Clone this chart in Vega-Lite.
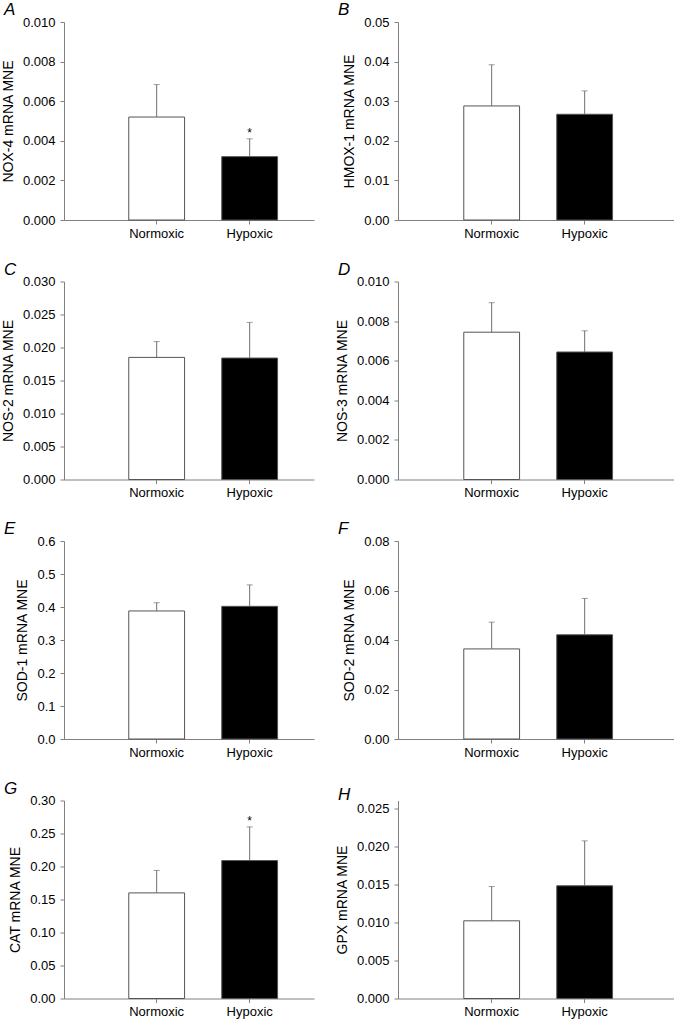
{
  "$schema": "https://vega.github.io/schema/vega-lite/v6.json",
  "background": "white",
  "padding": {"left": 1, "top": 1, "right": 0, "bottom": 0},
  "datasets": {
    "d": [
      {"panel": "A", "group": "Normoxic", "mean": 0.0052, "err": 0.00684, "sig": ""},
      {"panel": "A", "group": "Hypoxic", "mean": 0.0032, "err": 0.0041, "sig": "*"},
      {"panel": "B", "group": "Normoxic", "mean": 0.0288, "err": 0.0392, "sig": ""},
      {"panel": "B", "group": "Hypoxic", "mean": 0.0267, "err": 0.0326, "sig": ""},
      {"panel": "C", "group": "Normoxic", "mean": 0.0185, "err": 0.0209, "sig": ""},
      {"panel": "C", "group": "Hypoxic", "mean": 0.0184, "err": 0.0238, "sig": ""},
      {"panel": "D", "group": "Normoxic", "mean": 0.00744, "err": 0.00893, "sig": ""},
      {"panel": "D", "group": "Hypoxic", "mean": 0.00644, "err": 0.00751, "sig": ""},
      {"panel": "E", "group": "Normoxic", "mean": 0.388, "err": 0.413, "sig": ""},
      {"panel": "E", "group": "Hypoxic", "mean": 0.402, "err": 0.467, "sig": ""},
      {"panel": "F", "group": "Normoxic", "mean": 0.0364, "err": 0.0472, "sig": ""},
      {"panel": "F", "group": "Hypoxic", "mean": 0.0421, "err": 0.0568, "sig": ""},
      {"panel": "G", "group": "Normoxic", "mean": 0.160, "err": 0.194, "sig": ""},
      {"panel": "G", "group": "Hypoxic", "mean": 0.209, "err": 0.260, "sig": "*"},
      {"panel": "H", "group": "Normoxic", "mean": 0.0102, "err": 0.0147, "sig": ""},
      {"panel": "H", "group": "Hypoxic", "mean": 0.0148, "err": 0.0207, "sig": ""}
    ]
  },
  "columns": 2,
  "spacing": {"column": 21, "row": 20.5},
  "concat": [
    {
      "width": 250, "height": 198, "title": "A",
      "data": {"name": "d"},
      "transform": [{"filter": "datum.panel === 'A'"}],
      "encoding": {"x": {"field": "group", "type": "nominal", "sort": ["Normoxic", "Hypoxic"], "title": null,
        "scale": {"paddingInner": 0.4, "paddingOuter": 0.544, "align": 0.64}}},
      "layer": [
        {"mark": {"type": "bar", "stroke": "#555555", "strokeWidth": 1},
         "encoding": {"y": {"field": "mean", "type": "quantitative", "title": "NOX-4 mRNA MNE", "scale": {"domain": [0, 0.01]}, "axis": {"values": [0, 0.002, 0.004, 0.006, 0.008, 0.01], "tickCount": 20, "format": ".3f"}},
           "fill": {"field": "group", "type": "nominal", "scale": {"domain": ["Normoxic", "Hypoxic"], "range": ["#ffffff", "#000000"]}, "legend": null}}},
        {"mark": {"type": "rule", "color": "#707070"}, "encoding": {"y": {"field": "mean", "type": "quantitative", "title": "NOX-4 mRNA MNE"}, "y2": {"field": "err"}}},
        {"mark": {"type": "tick", "orient": "horizontal", "color": "#707070", "size": 6, "thickness": 1}, "encoding": {"y": {"field": "err", "type": "quantitative", "title": "NOX-4 mRNA MNE"}}},
        {"mark": {"type": "text", "baseline": "alphabetic", "dy": -2, "fontSize": 12}, "encoding": {"y": {"field": "err", "type": "quantitative", "title": "NOX-4 mRNA MNE"}, "text": {"field": "sig"}}}
      ]
    },
    {
      "width": 276, "height": 198, "title": "B",
      "data": {"name": "d"},
      "transform": [{"filter": "datum.panel === 'B'"}],
      "encoding": {"x": {"field": "group", "type": "nominal", "sort": ["Normoxic", "Hypoxic"], "title": null,
        "scale": {"paddingInner": 0.4, "paddingOuter": 0.684, "align": 0.517}}},
      "layer": [
        {"mark": {"type": "bar", "stroke": "#555555", "strokeWidth": 1},
         "encoding": {"y": {"field": "mean", "type": "quantitative", "title": "HMOX-1 mRNA MNE", "scale": {"domain": [0, 0.05]}, "axis": {"values": [0, 0.01, 0.02, 0.03, 0.04, 0.05], "tickCount": 20, "format": ".2f"}},
           "fill": {"field": "group", "type": "nominal", "scale": {"domain": ["Normoxic", "Hypoxic"], "range": ["#ffffff", "#000000"]}, "legend": null}}},
        {"mark": {"type": "rule", "color": "#707070"}, "encoding": {"y": {"field": "mean", "type": "quantitative", "title": "HMOX-1 mRNA MNE"}, "y2": {"field": "err"}}},
        {"mark": {"type": "tick", "orient": "horizontal", "color": "#707070", "size": 6, "thickness": 1}, "encoding": {"y": {"field": "err", "type": "quantitative", "title": "HMOX-1 mRNA MNE"}}}
      ]
    },
    {
      "width": 250, "height": 198, "title": "C",
      "data": {"name": "d"},
      "transform": [{"filter": "datum.panel === 'C'"}],
      "encoding": {"x": {"field": "group", "type": "nominal", "sort": ["Normoxic", "Hypoxic"], "title": null,
        "scale": {"paddingInner": 0.4, "paddingOuter": 0.544, "align": 0.64}}},
      "layer": [
        {"mark": {"type": "bar", "stroke": "#555555", "strokeWidth": 1},
         "encoding": {"y": {"field": "mean", "type": "quantitative", "title": "NOS-2 mRNA MNE", "scale": {"domain": [0, 0.03]}, "axis": {"values": [0, 0.005, 0.01, 0.015, 0.02, 0.025, 0.03], "tickCount": 20, "format": ".3f"}},
           "fill": {"field": "group", "type": "nominal", "scale": {"domain": ["Normoxic", "Hypoxic"], "range": ["#ffffff", "#000000"]}, "legend": null}}},
        {"mark": {"type": "rule", "color": "#707070"}, "encoding": {"y": {"field": "mean", "type": "quantitative", "title": "NOS-2 mRNA MNE"}, "y2": {"field": "err"}}},
        {"mark": {"type": "tick", "orient": "horizontal", "color": "#707070", "size": 6, "thickness": 1}, "encoding": {"y": {"field": "err", "type": "quantitative", "title": "NOS-2 mRNA MNE"}}}
      ]
    },
    {
      "width": 276, "height": 198, "title": "D",
      "data": {"name": "d"},
      "transform": [{"filter": "datum.panel === 'D'"}],
      "encoding": {"x": {"field": "group", "type": "nominal", "sort": ["Normoxic", "Hypoxic"], "title": null,
        "scale": {"paddingInner": 0.4, "paddingOuter": 0.684, "align": 0.517}}},
      "layer": [
        {"mark": {"type": "bar", "stroke": "#555555", "strokeWidth": 1},
         "encoding": {"y": {"field": "mean", "type": "quantitative", "title": "NOS-3 mRNA MNE", "scale": {"domain": [0, 0.01]}, "axis": {"values": [0, 0.002, 0.004, 0.006, 0.008, 0.01], "tickCount": 20, "format": ".3f"}},
           "fill": {"field": "group", "type": "nominal", "scale": {"domain": ["Normoxic", "Hypoxic"], "range": ["#ffffff", "#000000"]}, "legend": null}}},
        {"mark": {"type": "rule", "color": "#707070"}, "encoding": {"y": {"field": "mean", "type": "quantitative", "title": "NOS-3 mRNA MNE"}, "y2": {"field": "err"}}},
        {"mark": {"type": "tick", "orient": "horizontal", "color": "#707070", "size": 6, "thickness": 1}, "encoding": {"y": {"field": "err", "type": "quantitative", "title": "NOS-3 mRNA MNE"}}}
      ]
    },
    {
      "width": 250, "height": 198, "title": "E",
      "data": {"name": "d"},
      "transform": [{"filter": "datum.panel === 'E'"}],
      "encoding": {"x": {"field": "group", "type": "nominal", "sort": ["Normoxic", "Hypoxic"], "title": null,
        "scale": {"paddingInner": 0.4, "paddingOuter": 0.544, "align": 0.64}}},
      "layer": [
        {"mark": {"type": "bar", "stroke": "#555555", "strokeWidth": 1},
         "encoding": {"y": {"field": "mean", "type": "quantitative", "title": "SOD-1 mRNA MNE", "scale": {"domain": [0, 0.6]}, "axis": {"values": [0, 0.1, 0.2, 0.3, 0.4, 0.5, 0.6], "tickCount": 20, "format": ".1f"}},
           "fill": {"field": "group", "type": "nominal", "scale": {"domain": ["Normoxic", "Hypoxic"], "range": ["#ffffff", "#000000"]}, "legend": null}}},
        {"mark": {"type": "rule", "color": "#707070"}, "encoding": {"y": {"field": "mean", "type": "quantitative", "title": "SOD-1 mRNA MNE"}, "y2": {"field": "err"}}},
        {"mark": {"type": "tick", "orient": "horizontal", "color": "#707070", "size": 6, "thickness": 1}, "encoding": {"y": {"field": "err", "type": "quantitative", "title": "SOD-1 mRNA MNE"}}}
      ]
    },
    {
      "width": 276, "height": 198, "title": "F",
      "data": {"name": "d"},
      "transform": [{"filter": "datum.panel === 'F'"}],
      "encoding": {"x": {"field": "group", "type": "nominal", "sort": ["Normoxic", "Hypoxic"], "title": null,
        "scale": {"paddingInner": 0.4, "paddingOuter": 0.684, "align": 0.517}}},
      "layer": [
        {"mark": {"type": "bar", "stroke": "#555555", "strokeWidth": 1},
         "encoding": {"y": {"field": "mean", "type": "quantitative", "title": "SOD-2 mRNA MNE", "scale": {"domain": [0, 0.08]}, "axis": {"values": [0, 0.02, 0.04, 0.06, 0.08], "tickCount": 20, "format": ".2f"}},
           "fill": {"field": "group", "type": "nominal", "scale": {"domain": ["Normoxic", "Hypoxic"], "range": ["#ffffff", "#000000"]}, "legend": null}}},
        {"mark": {"type": "rule", "color": "#707070"}, "encoding": {"y": {"field": "mean", "type": "quantitative", "title": "SOD-2 mRNA MNE"}, "y2": {"field": "err"}}},
        {"mark": {"type": "tick", "orient": "horizontal", "color": "#707070", "size": 6, "thickness": 1}, "encoding": {"y": {"field": "err", "type": "quantitative", "title": "SOD-2 mRNA MNE"}}}
      ]
    },
    {
      "width": 250, "height": 198, "title": "G",
      "data": {"name": "d"},
      "transform": [{"filter": "datum.panel === 'G'"}],
      "encoding": {"x": {"field": "group", "type": "nominal", "sort": ["Normoxic", "Hypoxic"], "title": null,
        "scale": {"paddingInner": 0.4, "paddingOuter": 0.544, "align": 0.64}}},
      "layer": [
        {"mark": {"type": "bar", "stroke": "#555555", "strokeWidth": 1},
         "encoding": {"y": {"field": "mean", "type": "quantitative", "title": "CAT mRNA MNE", "scale": {"domain": [0, 0.3]}, "axis": {"values": [0, 0.05, 0.1, 0.15, 0.2, 0.25, 0.3], "tickCount": 20, "format": ".2f"}},
           "fill": {"field": "group", "type": "nominal", "scale": {"domain": ["Normoxic", "Hypoxic"], "range": ["#ffffff", "#000000"]}, "legend": null}}},
        {"mark": {"type": "rule", "color": "#707070"}, "encoding": {"y": {"field": "mean", "type": "quantitative", "title": "CAT mRNA MNE"}, "y2": {"field": "err"}}},
        {"mark": {"type": "tick", "orient": "horizontal", "color": "#707070", "size": 6, "thickness": 1}, "encoding": {"y": {"field": "err", "type": "quantitative", "title": "CAT mRNA MNE"}}},
        {"mark": {"type": "text", "baseline": "alphabetic", "dy": -2, "fontSize": 12}, "encoding": {"y": {"field": "err", "type": "quantitative", "title": "CAT mRNA MNE"}, "text": {"field": "sig"}}}
      ]
    },
    {
      "width": 276, "height": 198, "title": "H",
      "data": {"name": "d"},
      "transform": [{"filter": "datum.panel === 'H'"}],
      "encoding": {"x": {"field": "group", "type": "nominal", "sort": ["Normoxic", "Hypoxic"], "title": null,
        "scale": {"paddingInner": 0.4, "paddingOuter": 0.684, "align": 0.517}}},
      "layer": [
        {"mark": {"type": "bar", "stroke": "#555555", "strokeWidth": 1},
         "encoding": {"y": {"field": "mean", "type": "quantitative", "title": "GPX mRNA MNE", "scale": {"domain": [0, 0.025]}, "axis": {"values": [0, 0.005, 0.01, 0.015, 0.02, 0.025], "tickCount": 20, "format": ".3f"}},
           "fill": {"field": "group", "type": "nominal", "scale": {"domain": ["Normoxic", "Hypoxic"], "range": ["#ffffff", "#000000"]}, "legend": null}}},
        {"mark": {"type": "rule", "color": "#707070"}, "encoding": {"y": {"field": "mean", "type": "quantitative", "title": "GPX mRNA MNE"}, "y2": {"field": "err"}}},
        {"mark": {"type": "tick", "orient": "horizontal", "color": "#707070", "size": 6, "thickness": 1}, "encoding": {"y": {"field": "err", "type": "quantitative", "title": "GPX mRNA MNE"}}}
      ]
    }
  ],
  "config": {
    "font": "Liberation Sans",
    "view": {"stroke": null},
    "axis": {
      "domainColor": "#808080", "tickColor": "#808080", "labelColor": "#000000", "titleColor": "#000000",
      "labelFont": "Liberation Sans", "titleFont": "Liberation Sans",
      "labelFontSize": 13, "titleFontSize": 14, "titleFontWeight": "normal",
      "grid": false, "tickSize": 4, "titlePadding": 7, "labelOverlap": false
    },
    "axisX": {"labelAngle": 0, "labelPadding": 3},
    "axisY": {"labelPadding": 5},
    "title": {"anchor": "start", "frame": "group", "font": "Liberation Sans", "fontSize": 17, "fontStyle": "italic", "fontWeight": "normal", "dx": -60, "offset": -3, "baseline": "alphabetic", "color": "#000000"}
  }
}
